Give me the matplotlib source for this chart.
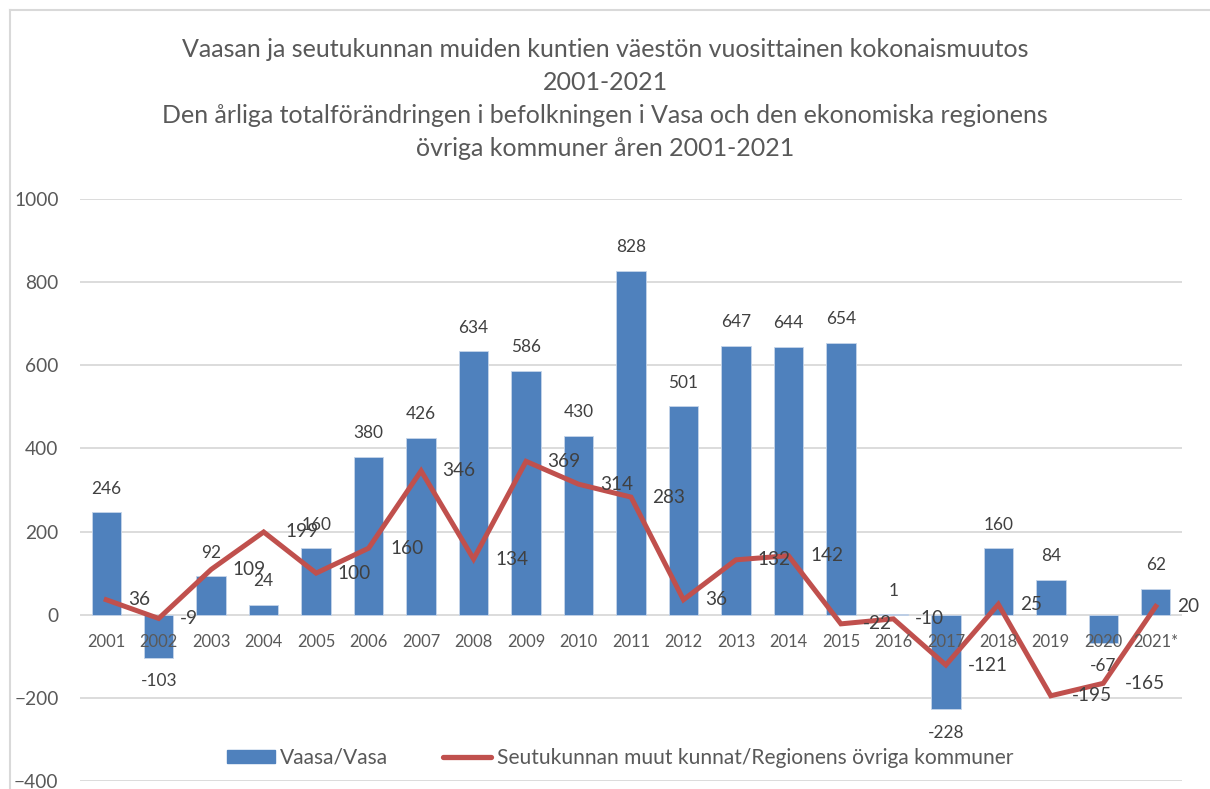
import matplotlib
matplotlib.use("Agg")
import matplotlib.pyplot as plt
from matplotlib.patches import Patch
from matplotlib.lines import Line2D

plt.rcParams['font.family'] = ['Lato', 'DejaVu Sans']

years = ["2001", "2002", "2003", "2004", "2005", "2006", "2007", "2008", "2009", "2010",
         "2011", "2012", "2013", "2014", "2015", "2016", "2017", "2018", "2019", "2020", "2021*"]
vaasa = [246, -103, 92, 24, 160, 380, 426, 634, 586, 430, 828, 501, 647, 644, 654, 1, -228, 160, 84, -67, 62]
region = [36, -9, 109, 199, 100, 160, 346, 134, 369, 314, 283, 36, 132, 142, -22, -10, -121, 25, -195, -165, 20]

title = ("Vaasan ja seutukunnan muiden kuntien väestön vuosittainen kokonaismuutos\n"
         "2001-2021\n"
         "Den årliga totalförändringen i befolkningen i Vasa och den ekonomiska regionens\n"
         "övriga kommuner åren 2001-2021")
label_vaasa = "Vaasa/Vasa"
label_region = "Seutukunnan muut kunnat/Regionens övriga kommuner"

BLUE = "#4F81BD"
RED = "#C0504D"
GRID = "#D9D9D9"
TXT = "#595959"
LBL = "#404040"

fig = plt.figure(figsize=(12.10, 7.89), dpi=100)
ax = fig.add_axes([80/1210, 1 - 781/789, (1182-80)/1210, (781-199)/789])

x = list(range(len(years)))
ax.bar(x, vaasa, width=0.56, color=BLUE, edgecolor="#C6D5EA", linewidth=0.6, zorder=2)
ax.plot(x, region, color=RED, linewidth=3.6, solid_joinstyle='miter', zorder=3)

ax.set_xlim(-0.5, len(years) - 0.5)
ax.set_ylim(-400, 1000)
ax.set_yticks(range(-400, 1001, 200))
ax.tick_params(axis='y', length=0, pad=15.5, labelsize=13.8, labelcolor=TXT)
ax.set_xticks([])
ax.grid(axis='y', color=GRID, linewidth=1.3, zorder=0)
ax.set_axisbelow(True)
for s in ax.spines.values():
    s.set_visible(False)

# category labels along the zero line
for i, yl in enumerate(years):
    ax.annotate(yl, (i, 0), xytext=(0, -19.5), textcoords='offset points',
                ha='center', va='center', fontsize=11.9, color=TXT, zorder=4)

# bar labels
for i, v in enumerate(vaasa):
    off = 17 if v >= 0 else -17
    ax.annotate(str(v), (i, v), xytext=(0, off), textcoords='offset points',
                ha='center', va='center', fontsize=12.4, color=LBL, zorder=4)

# line labels
for i, v in enumerate(region):
    ax.annotate(str(v), (i, v), xytext=(15.5, 0), textcoords='offset points',
                ha='left', va='center', fontsize=13.7, color=LBL, zorder=4)

fig.text(0.5, 1 - 99/789, title, ha='center', va='center', fontsize=18,
         color=TXT, linespacing=1.52)

handles = [Patch(facecolor=BLUE, edgecolor=BLUE),
           Line2D([0], [0], color=RED, linewidth=3.8, solid_capstyle='round')]
leg = ax.legend(handles, [label_vaasa, label_region], loc='center',
                bbox_to_anchor=(620/1210, 1 - 758/789), bbox_transform=fig.transFigure,
                ncol=2, frameon=False, fontsize=15.1, handlelength=2.3, handleheight=0.58,
                handletextpad=0.25, columnspacing=2.6, labelcolor=TXT)

# chart area frame (top and left edges visible)
fig.add_artist(Line2D([10/1210, 1.0], [1 - 10/789, 1 - 10/789], transform=fig.transFigure,
                      color=GRID, linewidth=1.5))
fig.add_artist(Line2D([10/1210, 10/1210], [0, 1 - 10/789], transform=fig.transFigure,
                      color=GRID, linewidth=1.5))

fig.savefig("out.png", dpi=100, facecolor="white")
